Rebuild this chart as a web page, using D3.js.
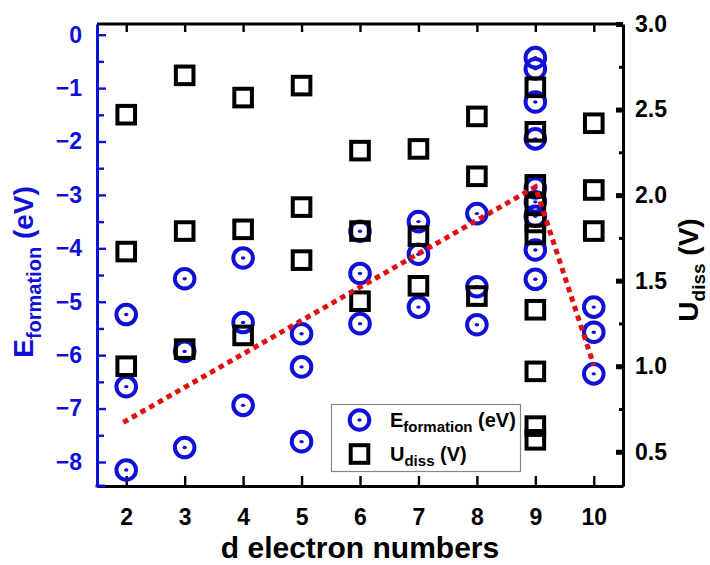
<!DOCTYPE html>
<html><head><meta charset="utf-8">
<script src="https://cdn.jsdelivr.net/npm/d3@7/dist/d3.min.js"></script>
<style>
html,body{margin:0;padding:0;background:#fff;}
svg{display:block;}
text{font-family:"Liberation Sans",Arial,sans-serif;font-weight:bold;}
</style></head>
<body>
<svg id="c" width="710" height="565"></svg>
<script>
// ---- data ----
const dTicks = [2,3,4,5,6,7,8,9,10];
const eTicks = [0,-1,-2,-3,-4,-5,-6,-7,-8];
const eMinor = [-0.5,-1.5,-2.5,-3.5,-4.5,-5.5,-6.5,-7.5];
const uTicks = [0.5,1.0,1.5,2.0,2.5,3.0];
const uMinor = [0.75,1.25,1.75,2.25,2.75];

const eD   = [2,2,2, 3,3,3, 4,4,4, 5,5,5, 6,6,6, 7,7,7, 8,8,8, 9,9,9,9,9,9,9,9,9, 10,10,10];
const eVal = [-5.24,-6.59,-8.15, -4.57,-5.93,-7.73, -4.18,-5.39,-6.94, -5.60,-6.22,-7.62,
              -3.68,-4.47,-5.41, -3.50,-4.11,-5.10, -3.35,-4.72,-5.43,
              -0.43,-0.64,-1.26,-1.95,-2.87,-3.13,-3.40,-4.03,-4.58, -5.10,-5.57,-6.35];

const uD   = [2,2,2, 3,3,3, 4,4,4, 5,5,5, 6,6,6, 7,7,7, 8,8,8, 9,9,9,9,9,9,9,9,9,9, 10,10,10];
const uVal = [2.47,1.67,1.00, 2.70,1.79,1.10, 2.57,1.80,1.18, 2.64,1.93,1.62,
              2.26,1.79,1.38, 2.27,1.76,1.47, 2.46,2.11,1.41,
              2.63,2.37,2.06,1.94,1.84,1.77,1.33,0.97,0.65,0.57, 2.42,2.03,1.79];

const trendD = [1.95, 9, 10];
const trendE = [-7.26, -2.85, -6.19];

// ---- layout ----
const L = 97, R = 623, T = 24, B = 486;
const BLUE = "#1010d8", RED = "#e01010";
const svg = d3.select("#c");

const x  = d3.scaleLinear().domain([1.5, 10.5]).range([L, R]);
const yE = d3.scaleLinear().domain([-8.45, 0.2]).range([B, T]);
const yU = d3.scaleLinear().domain([0.3, 3.0]).range([B, T]);

// frame top line
svg.append("line").attr("x1",L).attr("x2",R).attr("y1",T).attr("y2",T)
  .attr("stroke","#000").attr("stroke-width",3);

// top axis ticks
const gTop = svg.append("g").attr("transform",`translate(0,${T})`)
  .call(d3.axisTop(x).tickValues(dTicks).tickSize(-8).tickSizeOuter(0).tickFormat(""));
gTop.select(".domain").remove();
gTop.selectAll(".tick line").attr("stroke","#000").attr("stroke-width",2.4);

// bottom axis
const gB = svg.append("g").attr("transform",`translate(0,${B})`)
  .call(d3.axisBottom(x).tickValues(dTicks).tickSize(-10).tickSizeOuter(0).tickPadding(23).tickFormat(d3.format("d")));
gB.select(".domain").attr("stroke","#000").attr("stroke-width",3);
gB.selectAll(".tick line").attr("stroke","#000").attr("stroke-width",2.4);
gB.selectAll(".tick text").attr("fill","#000").style("font-size","23px");

// left axis (blue)
const gLm = svg.append("g").attr("transform",`translate(${L},0)`)
  .call(d3.axisLeft(yE).tickValues(eMinor).tickSize(-7).tickSizeOuter(0).tickFormat(""));
gLm.select(".domain").remove();
gLm.selectAll(".tick line").attr("stroke",BLUE).attr("stroke-width",2.4);
const gL = svg.append("g").attr("transform",`translate(${L},0)`)
  .call(d3.axisLeft(yE).tickValues(eTicks).tickSize(-9).tickSizeOuter(0).tickPadding(15).tickFormat(d3.format("d")));
gL.select(".domain").attr("stroke",BLUE).attr("stroke-width",3);
gL.selectAll(".tick line").attr("stroke",BLUE).attr("stroke-width",2.4);
gL.selectAll(".tick text").attr("fill",BLUE).style("font-size","23px");
// blue corner
svg.append("line").attr("x1",L-1.5).attr("x2",L+8).attr("y1",B).attr("y2",B)
  .attr("stroke",BLUE).attr("stroke-width",3);

// right axis
const gRm = svg.append("g").attr("transform",`translate(${R},0)`)
  .call(d3.axisRight(yU).tickValues(uMinor).tickSize(-4).tickSizeOuter(0).tickFormat(""));
gRm.select(".domain").remove();
gRm.selectAll(".tick line").attr("stroke","#000").attr("stroke-width",3);
const gR = svg.append("g").attr("transform",`translate(${R},0)`)
  .call(d3.axisRight(yU).tickValues(uTicks).tickSize(-7).tickSizeOuter(0).tickPadding(12).tickFormat(d3.format(".1f")));
gR.select(".domain").attr("stroke","#000").attr("stroke-width",3);
gR.selectAll(".tick line").attr("stroke","#000").attr("stroke-width",5);
gR.selectAll(".tick text").attr("fill","#000").style("font-size","23px");

// E formation markers
const gE = svg.append("g");
eD.forEach((d,i)=>{
  const cx = x(d), cy = yE(eVal[i]);
  gE.append("circle").attr("cx",cx).attr("cy",cy).attr("r",9.8)
    .attr("fill","none").attr("stroke",BLUE).attr("stroke-width",4);
  gE.append("ellipse").attr("cx",cx).attr("cy",cy).attr("rx",2.2).attr("ry",1.7).attr("fill",BLUE);
});

// U diss markers
const gU = svg.append("g");
uD.forEach((d,i)=>{
  const cx = x(d), cy = yU(uVal[i]);
  gU.append("rect").attr("x",cx-8.8).attr("y",cy-8.8).attr("width",17.6).attr("height",17.6)
    .attr("fill","none").attr("stroke","#000").attr("stroke-width",4);
});

// trend line
svg.append("path")
  .datum(trendD.map((d,i)=>[d,trendE[i]]))
  .attr("d", d3.line().x(p=>x(p[0])).y(p=>yE(p[1])))
  .attr("fill","none").attr("stroke",RED).attr("stroke-width",5)
  .attr("stroke-dasharray","5.5,4.5");

// legend
const lg = svg.append("g");
lg.append("rect").attr("x",331.5).attr("y",404.5).attr("width",189).attr("height",67)
  .attr("fill","#fff").attr("stroke","#888").attr("stroke-width",1.2);
lg.append("circle").attr("cx",359.5).attr("cy",420).attr("r",9.8)
  .attr("fill","none").attr("stroke",BLUE).attr("stroke-width",4);
lg.append("ellipse").attr("cx",359.5).attr("cy",420).attr("rx",2.2).attr("ry",1.7).attr("fill",BLUE);
lg.append("rect").attr("x",359.5-8.8).attr("y",454-8.8).attr("width",17.6).attr("height",17.6)
  .attr("fill","none").attr("stroke","#000").attr("stroke-width",4);
const t1 = lg.append("text").attr("x",390).attr("y",427).attr("fill","#000");
t1.append("tspan").style("font-size","20px").text("E");
t1.append("tspan").style("font-size","15px").attr("dy",5).text("formation");
t1.append("tspan").style("font-size","20px").attr("dy",-5).text(" (eV)");
const t2 = lg.append("text").attr("x",390).attr("y",461).attr("fill","#000");
t2.append("tspan").style("font-size","20px").text("U");
t2.append("tspan").style("font-size","15px").attr("dy",5).text("diss");
t2.append("tspan").style("font-size","20px").attr("dy",-5).text(" (V)");

// axis titles
svg.append("text").attr("x",(L+R)/2).attr("y",558).attr("text-anchor","middle")
  .style("font-size","30px").attr("fill","#000").text("d electron numbers");

const lt = svg.append("text").attr("transform","translate(33,272) rotate(-90)")
  .attr("text-anchor","middle").attr("fill",BLUE);
lt.append("tspan").style("font-size","28px").text("E");
lt.append("tspan").style("font-size","20px").attr("dy",8).text("formation");
lt.append("tspan").style("font-size","28px").attr("dy",-8).text(" (eV)");

const rt = svg.append("text").attr("transform","translate(698,270) rotate(-90)")
  .attr("text-anchor","middle").attr("fill","#000");
rt.append("tspan").style("font-size","28px").text("U");
rt.append("tspan").style("font-size","19px").attr("dy",7).text("diss");
rt.append("tspan").style("font-size","28px").attr("dy",-7).text(" (V)");
</script>
</body></html>
